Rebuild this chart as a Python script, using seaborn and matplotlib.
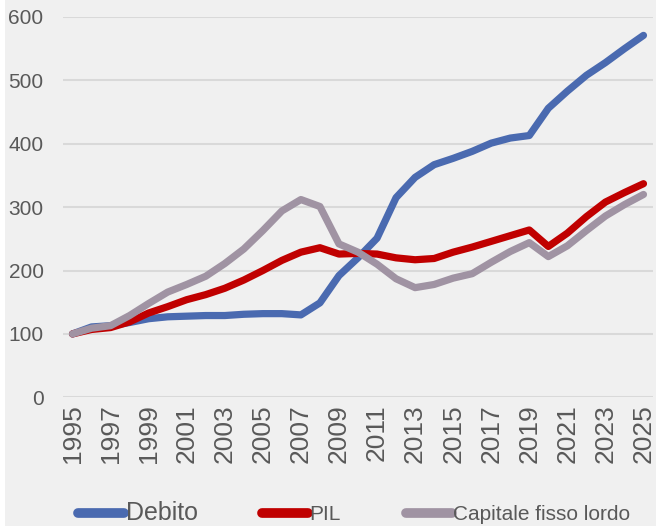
import matplotlib
matplotlib.use("Agg")
import matplotlib.pyplot as plt
from matplotlib.patches import Rectangle
import seaborn as sns
import pandas as pd

years = list(range(1995, 2026))

debito = [100, 111, 113, 118, 124, 127, 128, 129, 129, 131, 132, 132, 130, 149,
          192, 220, 251, 315, 347, 367, 377, 388, 401, 409, 413, 456, 483, 508,
          528, 550, 571]
pil = [100, 107, 110, 119, 133, 143, 154, 162, 172, 185, 200, 216, 229, 236,
       226, 227, 226, 220, 217, 219, 229, 237, 246, 255, 264, 238, 259, 285,
       308, 323, 337]
capitale = [100, 109, 113, 129, 148, 166, 178, 191, 211, 234, 263, 294, 312, 301,
            242, 229, 210, 187, 173, 178, 188, 195, 213, 230, 244, 222, 239, 263,
            286, 304, 320]

series_names = ["Debito", "PIL", "Capitale fisso lordo"]
colors = ["#4A6AB0", "#C00000", "#A093A3"]

df = pd.DataFrame({
    "anno": years * 3,
    "valore": debito + pil + capitale,
    "serie": [series_names[0]] * len(years) + [series_names[1]] * len(years)
             + [series_names[2]] * len(years),
})

sns.set_theme(style="white")
plt.rcParams["font.family"] = ["Liberation Sans", "DejaVu Sans"]

bg = "#F0F0F0"
text_color = "#595959"

fig = plt.figure(figsize=(6.56, 5.26), dpi=100, facecolor=bg)
W, H = 656, 526
ax = fig.add_axes([63 / W, (H - 397.3) / H, 590 / W, 380.3 / H])
ax.set_facecolor(bg)

sns.lineplot(data=df, x="anno", y="valore", hue="serie", hue_order=series_names,
             palette=colors, linewidth=5.2, ax=ax, legend=True)
for line in ax.get_lines():
    line.set_solid_capstyle("round")
    line.set_solid_joinstyle("round")
    line.set_clip_on(False)

ax.set_xlim(1994.5, 2025.5)
ax.set_ylim(0, 600)
ax.set_yticks(range(0, 601, 100))
ax.set_xticks(range(1995, 2026, 2))
ax.set_xticklabels([str(y) for y in range(1995, 2026, 2)], rotation=90)
ax.grid(axis="y", color="#D9D9D9", linewidth=1.5)
ax.grid(axis="x", visible=False)
for s in ax.spines.values():
    s.set_visible(False)
ax.tick_params(axis="y", length=0, pad=14, labelsize=15, labelcolor=text_color)
ax.tick_params(axis="x", length=0, pad=5, labelsize=19, labelcolor=text_color)
ax.set_xlabel("")
ax.set_ylabel("")

handles, labels = ax.get_legend_handles_labels()
ax.get_legend().remove()
for h in handles:
    h.set_linewidth(7)
    h.set_solid_capstyle("round")
leg = fig.legend(handles, labels, loc="center", bbox_to_anchor=(0.54, (H - 513) / H),
                 ncol=3, frameon=False, fontsize=15, handlelength=2.2,
                 handletextpad=0.08, columnspacing=3.1, labelcolor=text_color)
leg.get_texts()[0].set_fontsize(18)

fig.patches.append(Rectangle((0, 0), 5 / W, 1, transform=fig.transFigure,
                             facecolor="white", edgecolor="none", zorder=-1))

fig.savefig("out.png", dpi=100, facecolor=bg)
